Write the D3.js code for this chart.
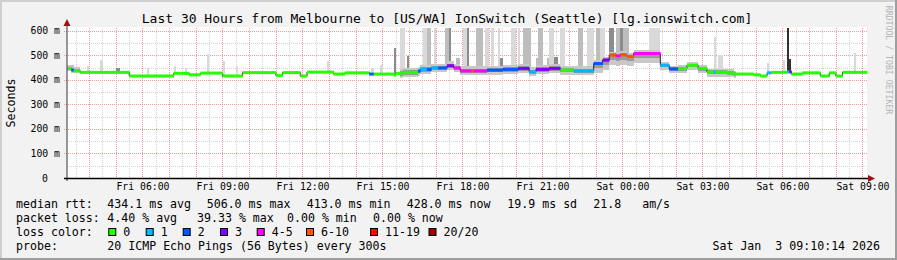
<!DOCTYPE html>
<html>
<head>
<meta charset="utf-8">
<script src="https://cdn.jsdelivr.net/npm/d3@7"></script>
<style>
body { margin: 0; background: #f2f2f2; }
svg text { font-family: "DejaVu Sans Mono", monospace; }
</style>
</head>
<body>
<script>
// chart data
var title = "Last 30 Hours from Melbourne to [US/WA] IonSwitch (Seattle) [lg.ionswitch.com]";
var startTime = new Date(2026, 0, 2, 3, 10, 14);
var endTime = new Date(2026, 0, 3, 9, 10, 14);
var stepMinutes = 5;
var stepCount = 360;

var lossLabels = ["0", "1", "2", "3", "4-5", "6-10", "11-19", "20/20"];
var lossColors = ["#26ff00", "#00b8ff", "#0059ff", "#7e00ff", "#ff00ff", "#ff5500", "#ff0000", "#a10000"];

// [first step, median ms, loss class] - each run lasts until the next one
var medianRuns = [
  [0, 447, 0], [2, 440, 2], [3, 437, 0], [6, 431, 0], [28, 416, 0], [48, 427, 0],
  [55, 421, 0], [60, 428, 0], [70, 416, 0], [79, 430, 0], [94, 418, 0], [97, 430, 0],
  [105, 416, 0], [108, 432, 0], [120, 424, 0], [125, 429, 0], [136, 424, 2], [138, 424, 0],
  [147, 420, 0], [148, 427, 0], [151, 431, 0], [158, 436, 2], [159, 443, 1], [162, 443, 2],
  [164, 449, 1], [167, 449, 2], [171, 458, 3], [174, 449, 4], [177, 437, 4], [182, 437, 5],
  [183, 437, 4], [189, 440, 2], [196, 443, 2], [203, 447, 3], [208, 433, 1], [211, 443, 3],
  [217, 447, 3], [222, 440, 0], [228, 437, 1], [237, 467, 2], [241, 481, 3], [244, 501, 5],
  [247, 498, 4], [249, 503, 5], [252, 496, 5], [255, 508, 4], [267, 460, 1], [271, 445, 2],
  [275, 447, 0], [279, 460, 0], [284, 447, 0], [288, 432, 0], [291, 432, 1], [292, 432, 0],
  [297, 429, 0], [300, 424, 0], [309, 421, 0], [312, 416, 0], [315, 429, 1], [317, 431, 0],
  [324, 433, 1], [325, 433, 3], [326, 424, 0], [331, 429, 0], [339, 416, 0], [343, 429, 0],
  [346, 416, 0], [349, 431, 0]
];

// [first step, last step, ms below median, ms above median]
var spreadRuns = [
  [0, 5, 10, 14], [150, 236, 18, 18], [237, 266, 40, 14], [267, 300, 18, 14]
];

// [step, width in steps, top ms, shade]
var smokeSpikes = [
  [0, 3, 460, 1], [9, 1, 455, 0], [15, 1, 481, 0], [22, 2, 450, 2], [36, 1, 450, 0],
  [48, 1, 455, 0], [53, 1, 450, 0], [63, 1, 505, 0], [70, 1, 478, 0], [76, 1, 455, 0],
  [117, 1, 478, 0], [137, 1, 450, 0], [141, 1, 462, 0], [147, 1, 530, 2], [150, 2, 615, 0],
  [153, 1, 496, 2], [160, 2, 615, 0], [162, 2, 615, 1], [165, 1, 615, 0], [170, 2, 615, 1],
  [172, 1, 615, 2], [175, 2, 490, 1], [178, 2, 615, 0], [180, 1, 615, 2], [184, 2, 615, 1],
  [186, 1, 615, 1], [188, 2, 615, 0], [191, 1, 615, 0], [194, 1, 615, 0], [195, 1, 490, 2],
  [200, 2, 615, 0], [203, 1, 615, 0], [205, 4, 615, 1], [211, 1, 490, 1], [212, 2, 615, 1],
  [216, 1, 490, 1], [217, 2, 615, 0], [219, 2, 495, 2], [222, 2, 615, 0], [230, 2, 615, 1],
  [234, 3, 615, 0], [238, 2, 615, 1], [240, 2, 615, 0], [244, 2, 615, 2], [247, 2, 615, 1],
  [249, 1, 615, 2], [250, 3, 615, 1], [262, 5, 615, 0], [291, 1, 575, 0], [293, 2, 500, 0],
  [315, 1, 468, 0], [322, 1, 481, 0], [324, 1, 612, 3], [325, 1, 485, 3], [354, 1, 508, 0]
];
var smokeShades = ["#d9d9d9", "#bdbdbd", "#8c8c8c", "#303030"];

var yTicks = [0, 100, 200, 300, 400, 500, 600];
var yMax = 612;

var statsRows = [
  [["median rtt:", 16], ["434.1 ms avg", 107.3], ["506.0 ms max", 206.7], ["413.0 ms min", 306.7],
   ["428.0 ms now", 406.7], ["19.9 ms sd", 507.3], ["21.8   am/s", 593.3]],
  [["packet loss:", 16], ["4.40 % avg", 107.3], ["39.33 % max", 197], ["0.00 % min", 287],
   ["0.00 % now", 373]],
  [["loss color:", 16]],
  [["probe:", 16], ["20 ICMP Echo Pings (56 Bytes) every 300s", 107.3]]
];
var lossBoxX = [108.3, 145.7, 182.7, 220, 256.7, 306, 370, 428.5];
var stampText = "Sat Jan  3 09:10:14 2026";

// layout
var W = 897, H = 260;
var plotL = 67, plotR = 867, plotT = 28, plotB = 178;

var svg = d3.select("body").append("svg").attr("width", W).attr("height", H);

// background + frame
svg.append("rect").attr("width", W).attr("height", H).attr("fill", "#f2f2f2");
svg.append("rect").attr("x", 0).attr("y", 0).attr("width", W).attr("height", 2).attr("fill", "#cfcfcf");
svg.append("rect").attr("x", 0).attr("y", 0).attr("width", 2).attr("height", H).attr("fill", "#cfcfcf");
svg.append("rect").attr("x", 0).attr("y", H - 2).attr("width", W).attr("height", 2).attr("fill", "#9e9e9e");
svg.append("rect").attr("x", W - 2).attr("y", 0).attr("width", 2).attr("height", H).attr("fill", "#9e9e9e");

svg.append("rect").attr("x", plotL).attr("y", plotT - 1).attr("width", plotR - plotL).attr("height", plotB - plotT + 1)
  .attr("fill", "#ffffff");

var x = d3.scaleTime().domain([startTime, endTime]).range([plotL, plotR]);
var y = d3.scaleLinear().domain([0, yMax]).range([plotB, plotT]);

function stepTime(s) {
  return new Date(+startTime + s * stepMinutes * 60000);
}

// grid
var grid = svg.append("g").attr("shape-rendering", "crispEdges");
d3.timeMinute.every(30).range(startTime, endTime).forEach(function(t) {
  var px = Math.round(x(t)) + 0.5;
  grid.append("line").attr("x1", px).attr("x2", px).attr("y1", plotT).attr("y2", plotB)
    .attr("stroke", "#d4d4d4").attr("stroke-dasharray", "1,1");
});
d3.range(50, 601, 100).forEach(function(v) {
  var py = Math.round(y(v)) + 0.5;
  grid.append("line").attr("x1", plotL).attr("x2", plotR).attr("y1", py).attr("y2", py)
    .attr("stroke", "#d4d4d4").attr("stroke-dasharray", "1,1");
});
d3.timeHour.every(1).range(startTime, endTime).forEach(function(t) {
  var px = Math.round(x(t)) + 0.5;
  grid.append("line").attr("x1", px).attr("x2", px).attr("y1", plotT).attr("y2", plotB + 2)
    .attr("stroke", "#f29a9a").attr("stroke-dasharray", "1,1");
});
yTicks.filter(function(v) { return v > 0; }).forEach(function(v) {
  var py = Math.round(y(v)) + 0.5;
  grid.append("line").attr("x1", plotL - 3).attr("x2", plotR).attr("y1", py).attr("y2", py)
    .attr("stroke", "#f29a9a").attr("stroke-dasharray", "1,1");
});

// expand runs into samples
var samples = [];
medianRuns.forEach(function(r, i) {
  var end = i + 1 < medianRuns.length ? medianRuns[i + 1][0] : stepCount;
  for (var s = r[0]; s < end; s++) samples.push({ s: s, ms: r[1], loss: r[2] });
});

// smoke
var smoke = svg.append("g").attr("shape-rendering", "crispEdges");
smoke.selectAll("rect.spike")
  .data(smokeSpikes)
  .enter()
  .append("rect")
  .attr("class", "spike")
  .attr("x", function(d) { return x(stepTime(d[0])); })
  .attr("width", function(d) { return x(stepTime(d[0] + d[1])) - x(stepTime(d[0])); })
  .attr("y", function(d) { return y(Math.min(d[2], yMax)); })
  .attr("height", function(d) { return y(samples[d[0]].ms) - y(Math.min(d[2], yMax)); })
  .attr("fill", function(d) { return smokeShades[d[3]]; });
spreadRuns.forEach(function(r) {
  for (var s = r[0]; s <= r[1]; s++) {
    var m = samples[s].ms;
    smoke.append("rect").attr("x", x(stepTime(s))).attr("width", x(stepTime(s + 1)) - x(stepTime(s)))
      .attr("y", y(m + r[3])).attr("height", y(m - r[2]) - y(m + r[3])).attr("fill", "#c8c8c8");
    smoke.append("rect").attr("x", x(stepTime(s))).attr("width", x(stepTime(s + 1)) - x(stepTime(s)))
      .attr("y", y(m + r[3] / 2)).attr("height", y(m - r[2] / 2) - y(m + r[3] / 2)).attr("fill", "#9a9a9a");
  }
});

// median: thin dark step line, then coloured loss bars
var medPts = [];
samples.forEach(function(d) {
  medPts.push([x(stepTime(d.s)), y(d.ms)]);
  medPts.push([x(stepTime(d.s + 1)), y(d.ms)]);
});
svg.append("path").attr("d", d3.line()(medPts)).attr("fill", "none")
  .attr("stroke", "#202020").attr("stroke-width", 1);

svg.append("g").selectAll("rect")
  .data(samples)
  .enter()
  .append("rect")
  .attr("x", function(d) { return x(stepTime(d.s)); })
  .attr("width", function(d) { return x(stepTime(d.s + 1)) - x(stepTime(d.s)) + 0.3; })
  .attr("y", function(d) { return y(d.ms) - 1.5; })
  .attr("height", 3)
  .attr("fill", function(d) { return lossColors[d.loss]; });

// axes
svg.append("line").attr("x1", plotL).attr("x2", plotL).attr("y1", 21).attr("y2", plotB + 3)
  .attr("stroke", "#555").attr("stroke-width", 1.2);
svg.append("line").attr("x1", plotL - 3).attr("x2", plotR + 2).attr("y1", plotB + 0.5).attr("y2", plotB + 0.5)
  .attr("stroke", "#000").attr("stroke-width", 1.5);
svg.append("path").attr("d", "M63.5,26L70.5,26L67,19Z").attr("fill", "#a01010");
svg.append("path").attr("d", "M868,175L868,182L875,178.5Z").attr("fill", "#a01010");

var xAxis = d3.axisBottom(x)
  .ticks(d3.timeHour.every(3))
  .tickFormat(d3.timeFormat("%a %H:%M"))
  .tickSize(0)
  .tickPadding(5.5);
var xg = svg.append("g").attr("transform", "translate(0," + plotB + ")").call(xAxis);
xg.select(".domain").remove();
xg.selectAll("text").attr("font-family", "DejaVu Sans Mono").attr("font-size", "9.8px").attr("fill", "#000");

svg.append("g").selectAll("text")
  .data(yTicks)
  .enter()
  .append("text")
  .attr("x", function(d) { return d ? 60 : 48; })
  .attr("y", function(d) { return y(d) + 3.5; })
  .attr("text-anchor", "end")
  .attr("font-size", "9.8px")
  .text(function(d) { return d ? d + " m" : "0"; });

// titles
svg.append("text").attr("x", 447).attr("y", 23).attr("text-anchor", "middle")
  .attr("font-size", "13px").text(title);
svg.append("text").attr("transform", "translate(15,103) rotate(-90)").attr("text-anchor", "middle")
  .attr("font-size", "11.6px").text("Seconds");
svg.append("text").attr("transform", "translate(885.5,60) rotate(90)").attr("text-anchor", "middle")
  .attr("font-size", "8.2px").attr("fill", "#b4b4b4").text("RRDTOOL / TOBI OETIKER");

// legend
var rowY = [208, 222, 236, 250];
statsRows.forEach(function(row, i) {
  row.forEach(function(item) {
    svg.append("text").attr("x", item[1]).attr("y", rowY[i]).attr("font-size", "11.6px")
      .style("white-space", "pre").text(item[0]);
  });
});
var lg = svg.append("g");
lg.selectAll("rect")
  .data(lossLabels)
  .enter()
  .append("rect")
  .attr("x", function(d, i) { return lossBoxX[i] + 0.5; })
  .attr("y", 228.5)
  .attr("width", 7)
  .attr("height", 7)
  .attr("fill", function(d, i) { return lossColors[i]; })
  .attr("stroke", "#000")
  .attr("stroke-width", 1);
lg.selectAll("text")
  .data(lossLabels)
  .enter()
  .append("text")
  .attr("x", function(d, i) { return lossBoxX[i] + 15; })
  .attr("y", rowY[2])
  .attr("font-size", "11.6px")
  .text(function(d) { return d; });

svg.append("text").attr("x", 880).attr("y", rowY[3]).attr("text-anchor", "end")
  .attr("font-size", "11.6px").style("white-space", "pre").text(stampText);
</script>
</body>
</html>
